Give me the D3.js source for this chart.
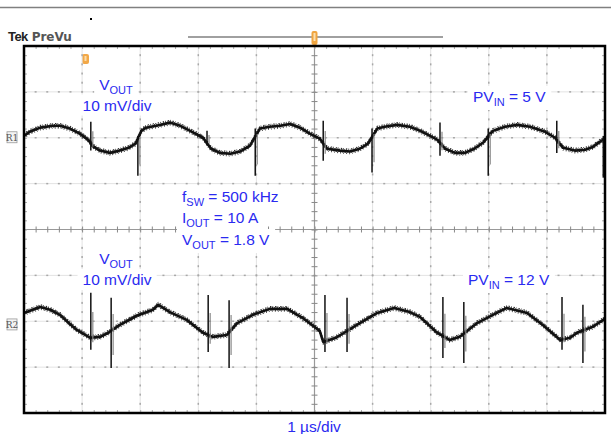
<!DOCTYPE html>
<html>
<head>
<meta charset="utf-8">
<script src="https://cdn.jsdelivr.net/npm/d3@7"></script>
<style>
  body { margin: 0; background: #fff; }
  text { white-space: pre; }
</style>
</head>
<body>
<div id="graph"></div>
<script>
// time in us, ripple in mV
const ch1Time = [0,0.10,0.28,0.50,0.62,0.79,0.96,1.10,1.20,1.31,1.48,1.65,1.80,1.92,2.02,2.10,2.34,2.51,2.69,2.86,3.08,3.22,3.37,3.55,3.72,3.89,4.06,4.23,4.41,4.58,4.75,4.92,5.09,5.22,5.44,5.61,5.78,5.92,6.08,6.21,6.42,6.64,6.82,6.99,7.11,7.25,7.42,7.59,7.75,7.90,8.07,8.28,8.49,8.71,8.97,9.14,9.28,9.48,9.66,9.79,9.91,10.0];
const ch1Ripple = [0.4,1.3,2.2,2.6,2.6,2.0,0.9,-0.4,-2.0,-2.8,-3.3,-2.8,-2.2,-1.3,1.5,2.2,2.8,3.3,2.6,1.5,0,-2.4,-3.3,-3.5,-3.0,-1.7,2.0,2.4,2.6,3.0,2.2,0.9,-0.2,-2.4,-2.8,-3.0,-2.4,-1.3,2.0,2.4,2.8,2.4,1.5,0.4,-0.4,-2.4,-3.3,-3.3,-2.4,-1.1,1.5,2.4,2.8,2.4,1.3,0,-2.2,-2.8,-2.6,-2.0,-0.9,-0.2];
const ch1SpikeT = [1.15,1.96,3.15,3.98,5.15,5.99,7.16,7.99,9.17,9.97];
const ch1SpikeHi = [3.5,0.4,1.5,2.0,3.7,2.0,3.3,2.0,3.7,0.4];
const ch1SpikeLo = [-2.8,-8.3,-1.7,-8.3,-5.0,-7.6,-3.9,-8.3,-3.3,-8.7];

const ch2Time = [0,0.15,0.28,0.45,0.62,0.79,0.91,1.14,1.31,1.45,1.65,1.94,2.22,2.31,2.51,2.80,3.08,3.25,3.49,3.67,3.94,4.23,4.53,4.80,5.09,5.15,5.37,5.78,6.08,6.37,6.64,6.82,7.11,7.33,7.50,7.80,8.07,8.31,8.66,8.93,9.23,9.40,9.52,9.79,9.97,10.0];
const ch2Ripple = [2.6,3.3,3.9,3.3,2.2,0.2,-1.1,-2.8,-2.6,-1.7,0,2.0,3.3,4.4,2.8,1.1,-1.7,-2.6,-2.2,0.4,2.2,3.5,3.5,1.5,-1.3,-3.7,-2.8,0.4,2.6,3.7,2.8,1.7,-1.7,-3.3,-2.6,0.4,2.2,3.7,2.6,0,-3.3,-2.8,-1.7,-0.4,1.1,1.5];
const ch2SpikeT = [1.15,1.50,3.17,3.53,5.18,5.56,7.21,7.57,9.26,9.62];
const ch2SpikeHi = [7.0,5.9,6.5,5.4,6.5,5.9,6.1,5.0,6.1,4.4];
const ch2SpikeLo = [-5.4,-9.4,-5.9,-9.4,-5.9,-5.9,-7.2,-8.3,-5.4,-8.3];

const chOffset = [2.0, -2.08];   // divisions
const mvPerDiv = 10;

const w = 611, h = 434;
const pLeft = 24, pRight = 605, pTop = 46, pBottom = 413;
const blue = '#2a2af0';

const svg = d3.select('#graph').append('svg').attr('width', w).attr('height', h);

const x = d3.scaleLinear().domain([0, 10]).range([pLeft, pRight]);
const y = d3.scaleLinear().domain([-4, 4]).range([pBottom, pTop]);

// top rule + small dot
svg.append('line').attr('x1',0).attr('x2',w).attr('y1',7.5).attr('y2',7.5)
   .attr('stroke','#808080').attr('stroke-width',1.6);
svg.append('rect').attr('x',90).attr('y',18).attr('width',2).attr('height',2).attr('fill','#000');

// header
const hdr = svg.append('text').attr('x',8).attr('y',41).attr('font-weight','bold');
hdr.append('tspan').attr('font-family','Liberation Sans').attr('font-size',13)
   .attr('letter-spacing',-0.6).attr('fill','#222').text('Tek');
hdr.append('tspan').attr('dx',4).attr('font-family','DejaVu Sans').attr('font-size',12)
   .attr('fill','#555').text('PreVu');

// record bar + trigger markers
svg.append('line').attr('x1',188).attr('x2',443).attr('y1',37).attr('y2',37)
   .attr('stroke','#a0a0a0').attr('stroke-width',2);
svg.append('rect').attr('x',x(5)-3).attr('y',31).attr('width',6).attr('height',14).attr('rx',2)
   .attr('fill','#f0a540');
svg.append('rect').attr('x',x(5)-1).attr('y',33).attr('width',2).attr('height',8).attr('fill','#fbe0b0');
svg.append('rect').attr('x',82).attr('y',54).attr('width',7).attr('height',10).attr('rx',2)
   .attr('fill','#f2a848');
svg.append('rect').attr('x',84.5).attr('y',56).attr('width',2).attr('height',5).attr('fill','#fcdca8');

// grid
const grid = svg.append('g');
const minorX = d3.range(0, 10.001, 0.2);
const minorY = d3.range(-4, 4.001, 0.2);
d3.range(1, 10).filter(d => d !== 5).forEach(d => {
  grid.append('line').attr('x1',x(d)).attr('x2',x(d)).attr('y1',pTop).attr('y2',pBottom)
      .attr('stroke','#e3e3e3').attr('stroke-width',1);
  grid.selectAll(null).data(minorY).enter().append('rect')
      .attr('x',x(d)-0.75).attr('y',v => y(v)-1).attr('width',1.5).attr('height',2)
      .attr('fill','#a8a8a8');
});
d3.range(-3, 4).filter(d => d !== 0).forEach(d => {
  grid.append('line').attr('x1',pLeft).attr('x2',pRight).attr('y1',y(d)).attr('y2',y(d))
      .attr('stroke','#e3e3e3').attr('stroke-width',1);
  grid.selectAll(null).data(minorX).enter().append('rect')
      .attr('x',v => x(v)-1).attr('y',y(d)-0.75).attr('width',2).attr('height',1.5)
      .attr('fill','#a8a8a8');
});
// centre crosshair with ticks
grid.append('line').attr('x1',x(5)).attr('x2',x(5)).attr('y1',pTop).attr('y2',pBottom)
    .attr('stroke','#999').attr('stroke-width',1.2);
grid.append('line').attr('x1',pLeft).attr('x2',pRight).attr('y1',y(0)).attr('y2',y(0))
    .attr('stroke','#999').attr('stroke-width',1.2);
grid.append('g').attr('transform',`translate(0,${y(0)-3})`)
    .call(d3.axisBottom(x).tickValues(minorX).tickSize(6).tickFormat(''))
    .call(g => g.select('.domain').remove())
    .call(g => g.selectAll('line').attr('stroke','#888'));
grid.append('g').attr('transform',`translate(${x(5)-3},0)`)
    .call(d3.axisRight(y).tickValues(minorY).tickSize(6).tickFormat(''))
    .call(g => g.select('.domain').remove())
    .call(g => g.selectAll('line').attr('stroke','#888'));
// border ticks
grid.append('g').attr('transform',`translate(0,${pTop})`)
    .call(d3.axisBottom(x).tickValues(minorX).tickSize(3).tickFormat(''))
    .call(g => g.select('.domain').remove())
    .call(g => g.selectAll('line').attr('stroke','#aaa'));
grid.append('g').attr('transform',`translate(0,${pBottom})`)
    .call(d3.axisTop(x).tickValues(minorX).tickSize(3).tickFormat(''))
    .call(g => g.select('.domain').remove())
    .call(g => g.selectAll('line').attr('stroke','#aaa'));
grid.append('g').attr('transform',`translate(${pLeft},0)`)
    .call(d3.axisRight(y).tickValues(minorY).tickSize(3).tickFormat(''))
    .call(g => g.select('.domain').remove())
    .call(g => g.selectAll('line').attr('stroke','#aaa'));
grid.append('g').attr('transform',`translate(${pRight},0)`)
    .call(d3.axisLeft(y).tickValues(minorY).tickSize(3).tickFormat(''))
    .call(g => g.select('.domain').remove())
    .call(g => g.selectAll('line').attr('stroke','#aaa'));

// labels with subscripts on white boxes
function label(x0, y0, parts, anchor, box) {
  const t = svg.append('text').attr('x',x0).attr('y',y0).attr('text-anchor',anchor)
    .attr('font-family','Liberation Sans, Arial, sans-serif').attr('font-size',15.5).attr('fill',blue);
  let shift = 0;
  parts.forEach(p => {
    const sub = p[1] === 1;
    const s = sub ? 4 : 0;
    t.append('tspan').attr('dy', s - shift).attr('font-size', sub ? 11 : 15.5).text(p[0]);
    shift = s;
  });
  if (box) {
    const b = t.node().getBBox();
    svg.insert('rect', () => t.node()).attr('x',b.x-5).attr('y',b.y-2)
       .attr('width',b.width+10).attr('height',b.height+4).attr('fill','#fff');
  }
  return t;
}
label(116, 90, [['V'],['OUT',1]], 'middle', true);
label(117, 110.5, [['10 mV/div']], 'middle', true);
label(473, 102, [['PV'],['IN',1],[' = 5 V']], 'start', true);
label(182, 201.5, [['f'],['SW',1],[' = 500 kHz']], 'start', true);
label(182, 223, [['I'],['OUT',1],[' = 10 A']], 'start', true);
label(182, 245, [['V'],['OUT',1],[' = 1.8 V']], 'start', true);
label(116, 264, [['V'],['OUT',1]], 'middle', true);
label(117, 285, [['10 mV/div']], 'middle', true);
label(468, 285, [['PV'],['IN',1],[' = 12 V']], 'start', true);
label(314, 432, [['1 µs/div']], 'middle', false);

// channel markers
[['R1', chOffset[0]], ['R2', chOffset[1]]].forEach(m => {
  svg.append('rect').attr('x',7).attr('y',y(m[1])-6).attr('width',10).attr('height',11)
     .attr('fill','#f4f4f4').attr('stroke','#999').attr('stroke-width',0.8);
  svg.append('text').attr('x',12).attr('y',y(m[1])+3.5).attr('text-anchor','middle')
     .attr('font-family','DejaVu Serif').attr('font-size',9).attr('fill','#555').text(m[0]);
});

// traces: one solid core plus offset broken strokes for the scope fuzz
const fuzz = [[-2.3,'0.7 1.9 1.4 1.1'],[-1.3,'1 1.3'],[1.3,'1.2 1.1 0.6 1.6'],[2.3,'0.8 2.2']];
const traces = svg.append('g');
function drawChannel(times, ripple, spT, spHi, spLo, off) {
  const pts = times.map((t, i) => [t, ripple[i]]);
  const yv = mv => y(off + mv / mvPerDiv);
  const line = d3.line().x(d => x(d[0])).y(d => yv(d[1]));
  fuzz.forEach(f => {
    traces.append('path').datum(pts).attr('d', line).attr('transform',`translate(0,${f[0]})`)
      .attr('fill','none').attr('stroke','#2a2a2a').attr('stroke-width',1.1)
      .attr('stroke-dasharray',f[1]);
  });
  traces.append('path').datum(pts).attr('d', line)
    .attr('fill','none').attr('stroke','#111').attr('stroke-width',2.6)
    .attr('stroke-linejoin','round');
  spT.forEach((t, i) => {
    traces.append('line').attr('x1',x(t)+2).attr('x2',x(t)+2)
      .attr('y1',yv(spHi[i]*0.4)).attr('y2',yv(spLo[i]*0.7))
      .attr('stroke','#888').attr('stroke-width',1.2);
    traces.append('line').attr('x1',x(t)).attr('x2',x(t))
      .attr('y1',yv(spHi[i])).attr('y2',yv(spLo[i]))
      .attr('stroke','#111').attr('stroke-width',1.5);
  });
}
drawChannel(ch1Time, ch1Ripple, ch1SpikeT, ch1SpikeHi, ch1SpikeLo, chOffset[0]);
drawChannel(ch2Time, ch2Ripple, ch2SpikeT, ch2SpikeHi, ch2SpikeLo, chOffset[1]);

// frame
svg.append('rect').attr('x',pLeft).attr('y',pTop).attr('width',pRight-pLeft).attr('height',pBottom-pTop)
   .attr('fill','none').attr('stroke','#000').attr('stroke-width',2.5);
</script>
</body>
</html>
